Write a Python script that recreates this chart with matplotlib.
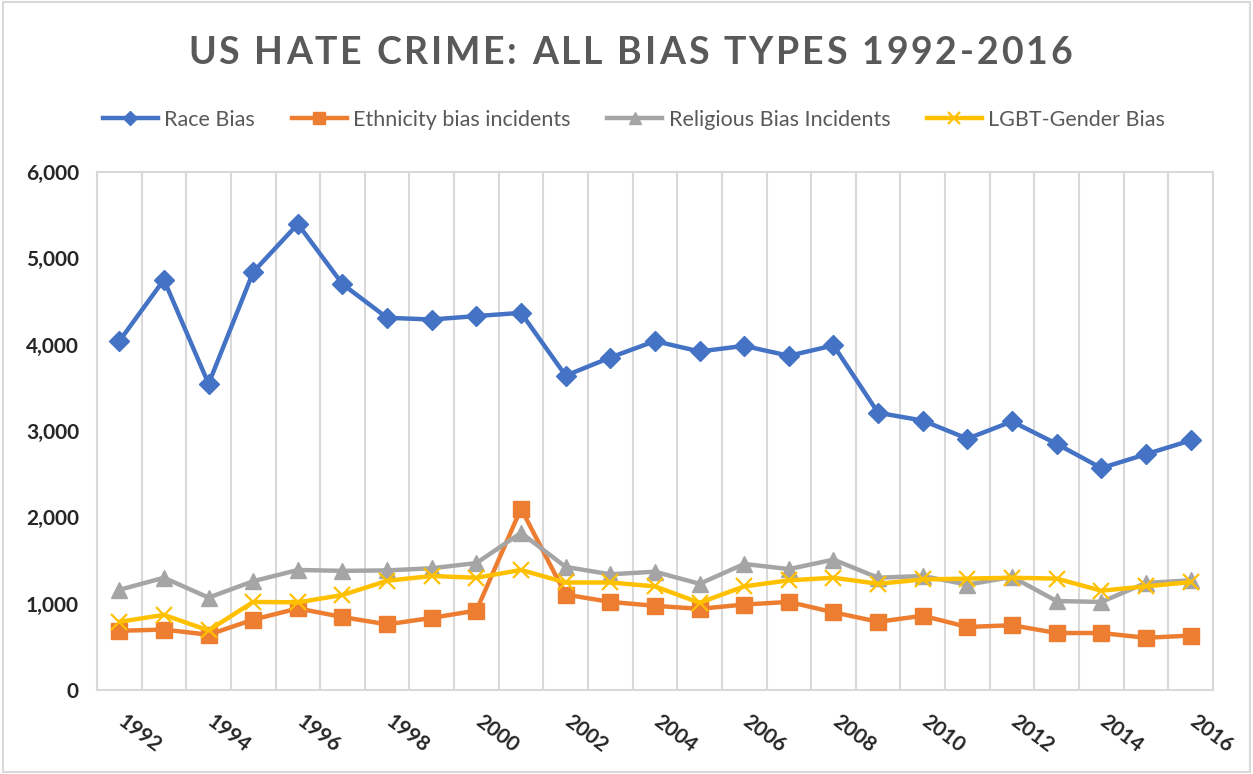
import matplotlib.pyplot as plt
import matplotlib.transforms as mtransforms
from matplotlib.ticker import FuncFormatter
import numpy as np

# Данные
years = list(range(1992, 2017))
race = [4040, 4750, 3545, 4840, 5396, 4700, 4310, 4290, 4330, 4367, 3640, 3850, 4040,
        3920, 3985, 3870, 3990, 3210, 3120, 2910, 3110, 2850, 2570, 2730, 2890]
ethnicity = [686, 700, 640, 815, 945, 845, 760, 835, 920, 2100, 1105, 1020, 975,
             940, 990, 1020, 900, 790, 860, 730, 750, 660, 660, 605, 630]
religious = [1160, 1300, 1070, 1260, 1390, 1380, 1385, 1410, 1470, 1820, 1425, 1340, 1370,
             1230, 1460, 1400, 1510, 1300, 1320, 1220, 1310, 1030, 1020, 1240, 1270]
lgbt = [790, 870, 690, 1020, 1015, 1100, 1265, 1320, 1300, 1390, 1245, 1245, 1200,
        1010, 1200, 1270, 1300, 1230, 1280, 1290, 1300, 1290, 1150, 1200, 1250]

series_names = ["Race Bias", "Ethnicity bias incidents", "Religious Bias Incidents", "LGBT-Gender Bias"]
colors = ["#4472C4", "#ED7D31", "#A5A5A5", "#FFC000"]
markers = ["D", "s", "^", "x"]
title = "US HATE CRIME: ALL BIAS TYPES 1992-2016"

plt.rcParams['font.family'] = ['Lato', 'DejaVu Sans']

fig = plt.figure(figsize=(12.53, 7.74), dpi=100)
ax = fig.add_axes([0.0774, 0.1085, 0.8906, 0.6695])

x = np.arange(len(years))
for vals, name, c, m in zip([race, ethnicity, religious, lgbt], series_names, colors, markers):
    if m == "x":
        ax.plot(x, vals, color=c, lw=3.2, marker=m, markersize=12, mew=1.6, label=name, zorder=3)
    else:
        ms = 10 if m == "D" else 11
        ax.plot(x, vals, color=c, lw=3.2, marker=m, markersize=ms, label=name, zorder=3)

ax.set_xlim(-0.5, len(years) - 0.5)
ax.set_ylim(0, 6000)
ax.set_yticks(range(0, 6001, 1000))
ax.yaxis.set_major_formatter(FuncFormatter(lambda v, p: f"{int(v):,}"))

# вертикальная сетка между категориями
ax.set_xticks(np.arange(-0.5, len(years), 1), minor=True)
ax.grid(True, which='minor', axis='x', color='#D9D9D9', lw=1.5)
ax.set_xticks(x[::2])
ax.set_xticklabels([str(y) for y in years[::2]], rotation=-37, ha='left', va='top',
                   rotation_mode='anchor')
ax.tick_params(axis='both', which='both', length=0, labelsize=15, labelcolor='#262626')
ax.tick_params(axis='x', pad=15)
ax.tick_params(axis='y', pad=13)
shift = mtransforms.ScaledTranslation(7 / 100, 0, fig.dpi_scale_trans)
for lab in ax.get_xticklabels():
    lab.set_fontweight('bold')
    lab.set_transform(lab.get_transform() + shift)
for lab in ax.get_yticklabels():
    lab.set_fontweight('bold')
for s in ax.spines.values():
    s.set_color('#D9D9D9')
    s.set_linewidth(1.5)

# заголовок с разрядкой букв
r = fig.canvas.get_renderer()
tkw = dict(fontsize=27, fontweight='bold', color='#595959')


def text_w(s):
    t = fig.text(0, 0, s, **tkw)
    w = t.get_window_extent(r).width
    t.remove()
    return w


W = fig.bbox.width
target = 884
base = text_w(title)
gap = (target - base) / (len(title) - 1)
i_w = text_w("I")
left = 630 - target / 2
for i, ch in enumerate(title):
    if ch == " ":
        continue
    pos = text_w(title[:i] + "I") - i_w if i > 0 else 0
    fig.text((left + pos + i * gap) / W, 0.9315, ch, ha='left', va='center', **tkw)

fig.legend(loc='center', bbox_to_anchor=(0.506, 0.845), ncol=4, frameon=False,
           fontsize=15.5, labelcolor='#595959', handlelength=2.55, columnspacing=1.7,
           handletextpad=0.3, markerscale=0.75)

fig.patches.append(plt.Rectangle((0.002, 0.002), 0.996, 0.996, transform=fig.transFigure,
                                 fill=False, edgecolor='#D9D9D9', lw=1.5))

fig.savefig("out.png", dpi=100)
